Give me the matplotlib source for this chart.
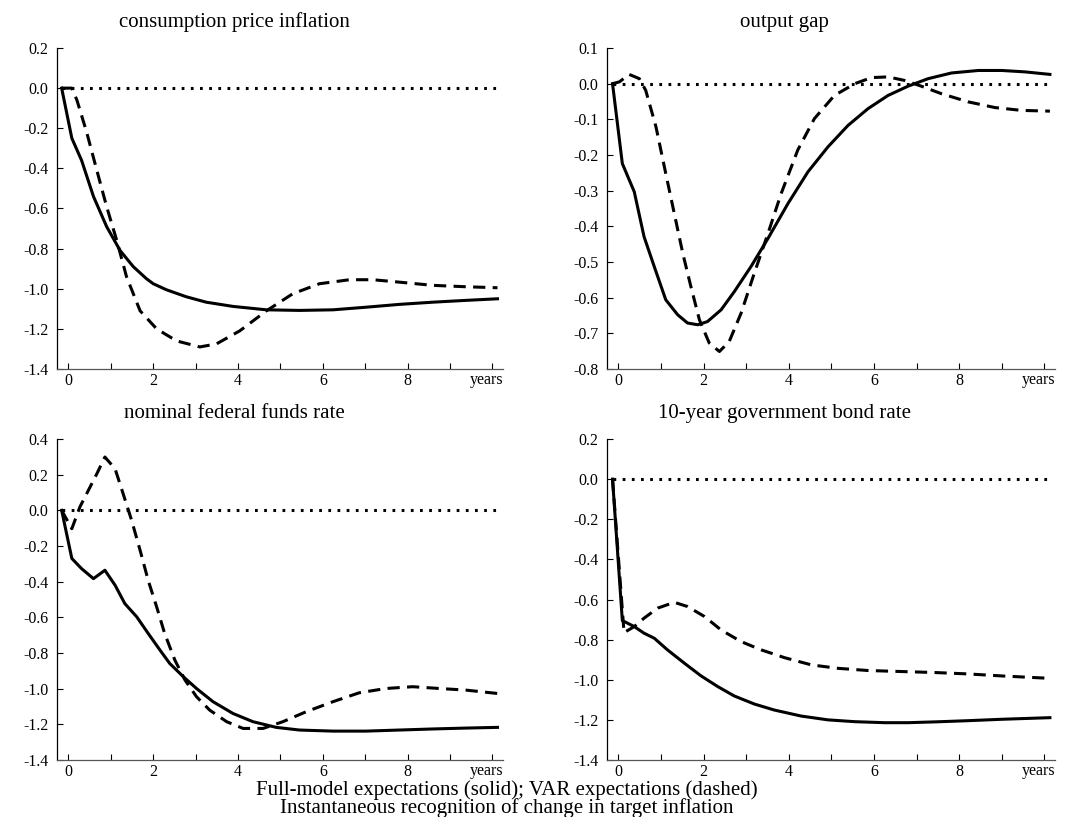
"""
Impulse responses to a change in target inflation, four panels
"""

import numpy as np
import matplotlib
matplotlib.use('Agg')
import matplotlib.pyplot as plt

plt.rcParams['font.family'] = ['Liberation Serif', 'DejaVu Serif']
plt.rcParams['axes.unicode_minus'] = False

titles = ['consumption price inflation', 'output gap',
          'nominal federal funds rate', '10-year government bond rate']

# consumption price inflation
cpi_full_t = [-0.16, 0.08, 0.31, 0.59, 0.9, 1.22, 1.53, 1.84, 2.0, 2.31, 2.78, 3.25, 3.88,
              4.67, 5.45, 6.24, 7.02, 7.8, 8.59, 9.37, 10.12]
cpi_full = [0.0, -0.25, -0.36, -0.54, -0.69, -0.81, -0.89, -0.95, -0.975, -1.005, -1.04,
            -1.067, -1.088, -1.105, -1.108, -1.105, -1.092, -1.078, -1.067, -1.058, -1.05]
cpi_var_t = [-0.16, 0.08, 0.2, 0.43, 0.67, 0.9, 1.14, 1.37, 1.69, 2.08, 2.55, 3.1, 3.49,
             4.04, 4.67, 5.29, 5.92, 6.63, 7.18, 7.8, 8.59, 9.37, 10.12]
cpi_var = [0.0, 0.0, -0.06, -0.22, -0.41, -0.59, -0.76, -0.94, -1.11, -1.2, -1.26, -1.29,
           -1.275, -1.21, -1.11, -1.025, -0.975, -0.955, -0.955, -0.967, -0.983, -0.99,
           -0.995]

# output gap
gap_full_t = [-0.14, 0.09, 0.37, 0.6, 0.84, 1.11, 1.39, 1.62, 1.86, 2.09, 2.41, 2.72,
              3.11, 3.51, 3.98, 4.45, 4.92, 5.39, 5.86, 6.33, 6.8, 7.27, 7.82, 8.45,
              9.0, 9.55, 10.13]
gap_full = [0.0, -0.224, -0.303, -0.429, -0.513, -0.606, -0.648, -0.671, -0.676, -0.667,
            -0.634, -0.583, -0.513, -0.434, -0.336, -0.247, -0.177, -0.117, -0.07,
            -0.033, -0.007, 0.014, 0.03, 0.037, 0.037, 0.033, 0.026]
gap_var_t = [-0.14, 0.02, 0.25, 0.49, 0.64, 0.88, 1.11, 1.31, 1.51, 1.7, 1.9, 2.13, 2.37,
             2.6, 2.88, 3.19, 3.51, 3.82, 4.21, 4.6, 5.07, 5.55, 5.94, 6.33, 6.72, 7.11,
             7.58, 8.21, 8.84, 9.47, 10.13]
gap_var = [0.0, 0.005, 0.026, 0.014, -0.019, -0.121, -0.252, -0.364, -0.476, -0.569,
           -0.662, -0.727, -0.751, -0.723, -0.643, -0.531, -0.42, -0.308, -0.186,
           -0.098, -0.033, 0.0, 0.017, 0.019, 0.009, -0.007, -0.028, -0.051, -0.067,
           -0.075, -0.077]

# nominal federal funds rate
ffr_full_t = [-0.16, 0.08, 0.31, 0.59, 0.86, 1.1, 1.33, 1.61, 1.88, 2.16, 2.39, 2.71,
              3.02, 3.41, 3.88, 4.35, 4.9, 5.45, 6.24, 7.02, 7.8, 8.59, 9.37, 10.12]
ffr_full = [0.0, -0.27, -0.327, -0.383, -0.336, -0.42, -0.523, -0.597, -0.69, -0.784,
            -0.859, -0.933, -0.999, -1.073, -1.139, -1.185, -1.217, -1.232, -1.238,
            -1.238, -1.232, -1.226, -1.221, -1.217]
ffr_var_t = [-0.16, 0.08, 0.27, 0.47, 0.67, 0.86, 1.1, 1.29, 1.49, 1.69, 1.88, 2.08,
             2.27, 2.51, 2.75, 3.02, 3.33, 3.73, 4.12, 4.59, 5.06, 5.61, 6.24, 6.86,
             7.49, 8.12, 8.75, 9.37, 10.12]
ffr_var = [0.0, -0.103, 0.019, 0.112, 0.205, 0.299, 0.233, 0.093, -0.056, -0.224,
           -0.392, -0.541, -0.691, -0.84, -0.952, -1.045, -1.12, -1.185, -1.223, -1.223,
           -1.185, -1.129, -1.073, -1.023, -0.999, -0.989, -0.999, -1.008, -1.027]

# 10-year government bond rate
bond_full_t = [-0.14, 0.09, 0.37, 0.6, 0.84, 1.15, 1.55, 1.94, 2.33, 2.72, 3.19, 3.66,
               4.29, 4.92, 5.55, 6.25, 6.8, 7.43, 8.21, 9.0, 10.13]
bond_full = [0.0, -0.705, -0.735, -0.768, -0.793, -0.851, -0.918, -0.981, -1.034,
             -1.081, -1.121, -1.151, -1.181, -1.2, -1.209, -1.214, -1.214, -1.21,
             -1.204, -1.197, -1.189]
bond_var_t = [-0.14, 0.13, 0.37, 0.6, 0.92, 1.31, 1.62, 2.02, 2.41, 2.88, 3.35, 3.9,
              4.53, 5.15, 5.86, 6.64, 7.43, 8.21, 9.0, 10.13]
bond_var = [0.0, -0.765, -0.735, -0.693, -0.643, -0.614, -0.635, -0.685, -0.752, -0.81,
            -0.851, -0.89, -0.926, -0.943, -0.954, -0.959, -0.964, -0.971, -0.981,
            -0.993]

series = [(cpi_full_t, cpi_full, cpi_var_t, cpi_var),
          (gap_full_t, gap_full, gap_var_t, gap_var),
          (ffr_full_t, ffr_full, ffr_var_t, ffr_var),
          (bond_full_t, bond_full, bond_var_t, bond_var)]
ylims = [(-1.4, 0.2), (-0.8, 0.1), (-1.4, 0.4), (-1.4, 0.2)]
ysteps = [0.2, 0.1, 0.2, 0.2]
xtick_years = list(range(0, 11))

W, H = 1070, 817
fig = plt.figure(figsize=(W / 100, H / 100), dpi=100)

# axes boxes in pixels: left, top, right, bottom
boxes = [(57, 48, 503, 369), (607, 48, 1055, 369),
         (57, 439, 503, 760), (607, 439, 1055, 760)]

for i, (l, t, r, b) in enumerate(boxes):
    ax = fig.add_axes([l / W, 1 - b / H, (r - l) / W, (b - t) / H])
    ts, ys, tv, yv = series[i]
    ax.plot(ts, ys, color='black', lw=2.2, solid_joinstyle='round')
    ax.plot(tv, yv, color='black', lw=2.2, dashes=(4, 2.4), dash_capstyle='butt')
    ax.plot([ts[0], ts[-1]], [0, 0], color='black', lw=2.2, dashes=(0.9, 2.1),
            dash_capstyle='butt')

    ax.set_xlim(-0.27, 10.25)
    ax.set_ylim(*ylims[i])
    lo, hi = ylims[i]
    yt = np.round(np.arange(lo, hi + 1e-9, ysteps[i]), 2)
    ax.set_yticks(yt)
    ax.set_yticklabels(['{:.1f}'.format(abs(v) if abs(v) < 1e-9 else v) for v in yt])
    ax.set_xticks(xtick_years)
    ax.set_xticklabels([str(v) if v % 2 == 0 and v < 10 else '' for v in xtick_years])
    ax.tick_params(direction='in', length=4, width=0.8, labelsize=11.5)
    ax.tick_params(axis='y', pad=6)
    ax.tick_params(axis='x', pad=3)
    ax.spines['top'].set_visible(False)
    ax.spines['right'].set_visible(False)
    ax.spines['left'].set_linewidth(0.9)
    ax.spines['bottom'].set_linewidth(0.9)
    ax.spines['bottom'].set_color('#555555')

    ax.text(1.0, -0.01, 'years', transform=ax.transAxes, ha='right', va='top',
            fontsize=11.5)
    ax.text(0.397, 1.065, titles[i], transform=ax.transAxes, ha='center',
            va='baseline', fontsize=15)

fig.text(0.474, 1 - 795 / H, 'Full-model expectations (solid); VAR expectations (dashed)',
         ha='center', va='baseline', fontsize=15)
fig.text(0.474, 1 - 813 / H, 'Instantaneous recognition of change in target inflation',
         ha='center', va='baseline', fontsize=15)

plt.savefig('out.png', dpi=100)
